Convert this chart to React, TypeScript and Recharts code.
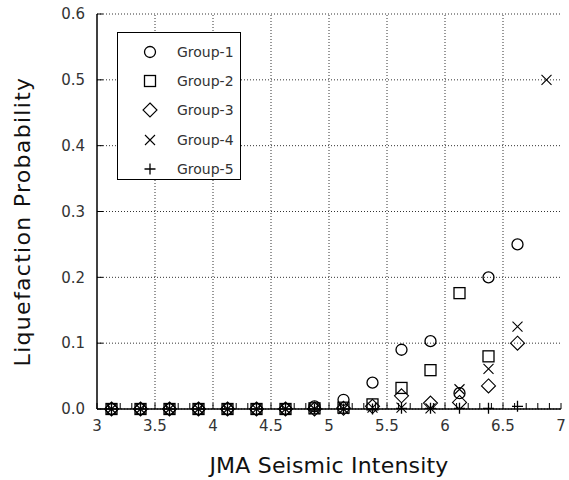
import { ScatterChart, Scatter, XAxis, YAxis, CartesianGrid, ReferenceLine, Legend } from 'recharts';

// JMA intensity bins (x positions of the points)
const intensity = [3.125, 3.375, 3.625, 3.875, 4.125, 4.375, 4.625, 4.875, 5.125, 5.375, 5.625, 5.875, 6.125, 6.375, 6.625, 6.875];

// liquefaction probability per group (null = no point)
const group1 = [0, 0, 0, 0, 0, 0, 0, 0.004, 0.014, 0.04, 0.09, 0.103, 0.024, 0.2, 0.25, null];
const group2 = [0, 0, 0, 0, 0, 0, 0, 0.001, 0.002, 0.007, 0.032, 0.059, 0.176, 0.08, null, null];
const group3 = [0, 0, 0, 0, 0, 0, 0, 0, 0.001, 0.004, 0.02, 0.009, 0.01, 0.035, 0.1, null];
const group4 = [0, 0, 0, 0, 0, 0, 0, 0, 0, 0.002, 0.002, 0.001, 0.03, 0.061, 0.125, 0.5];
const group5 = [0, 0, 0, 0, 0, 0, 0, 0, 0, 0, 0.001, 0.001, 0.001, 0.001, 0.004, null];

const groupNames = ['Group-1', 'Group-2', 'Group-3', 'Group-4', 'Group-5'];

const xMajorTicks = [3, 3.5, 4, 4.5, 5, 5.5, 6, 6.5, 7];
const xMinorTicks = [
  3, 3.1, 3.2, 3.3, 3.4, 3.5, 3.6, 3.7, 3.8, 3.9,
  4, 4.1, 4.2, 4.3, 4.4, 4.5, 4.6, 4.7, 4.8, 4.9,
  5, 5.1, 5.2, 5.3, 5.4, 5.5, 5.6, 5.7, 5.8, 5.9,
  6, 6.1, 6.2, 6.3, 6.4, 6.5, 6.6, 6.7, 6.8, 6.9, 7,
];
const yTicks = [0, 0.1, 0.2, 0.3, 0.4, 0.5, 0.6];

const FONT = '"DejaVu Sans", sans-serif';
const INK = '#000';

const toPoints = (vals: (number | null)[]) =>
  intensity
    .map((x, i) => ({ x, y: vals[i] }))
    .filter((p) => p.y !== null);

const groups = [group1, group2, group3, group4, group5].map(toPoints);

// marker shapes
const CircleMark = ({ cx, cy }: any) => (
  <circle cx={cx} cy={cy} r={5.5} fill="none" stroke={INK} strokeWidth={1.3} />
);
const SquareMark = ({ cx, cy }: any) => (
  <rect x={cx - 5.5} y={cy - 5.5} width={11} height={11} fill="none" stroke={INK} strokeWidth={1.3} />
);
const DiamondMark = ({ cx, cy }: any) => (
  <path d={`M${cx},${cy - 7}L${cx + 7},${cy}L${cx},${cy + 7}L${cx - 7},${cy}Z`} fill="none" stroke={INK} strokeWidth={1.1} />
);
const CrossMark = ({ cx, cy }: any) => (
  <path d={`M${cx - 5},${cy - 5}L${cx + 5},${cy + 5}M${cx - 5},${cy + 5}L${cx + 5},${cy - 5}`} stroke={INK} strokeWidth={1.1} />
);
const PlusMark = ({ cx, cy }: any) => (
  <path d={`M${cx - 5.5},${cy}L${cx + 5.5},${cy}M${cx},${cy - 5.5}L${cx},${cy + 5.5}`} stroke={INK} strokeWidth={1.3} />
);

const marks = [CircleMark, SquareMark, DiamondMark, CrossMark, PlusMark];

function BottomTick(props: any) {
  const { x, y, payload } = props;
  if (!xMajorTicks.includes(payload.value)) return <g />;
  return (
    <text x={x} y={y} dy="0.71em" textAnchor="middle" fill="#333" fontSize={15} fontFamily={FONT}>
      {String(payload.value)}
    </text>
  );
}

function LegendBox() {
  return (
    <div
      style={{
        width: 124,
        height: 148,
        border: '1.5px solid #000',
        background: '#fff',
        boxSizing: 'border-box',
        paddingTop: 4,
      }}
    >
      {groupNames.map((name, i) => {
        const Mark = marks[i];
        return (
          <div key={name} style={{ display: 'flex', alignItems: 'center', height: 29.3 }}>
            <svg width={16} height={16} style={{ marginLeft: 24 }}>
              <Mark cx={8} cy={8} />
            </svg>
            <span style={{ marginLeft: 19, fontSize: 14, color: '#333', fontFamily: FONT }}>{name}</span>
          </div>
        );
      })}
    </div>
  );
}

export default function App() {
  return (
    <div style={{ position: 'absolute', left: 0, top: 0, width: 569, height: 480, background: '#fff', fontFamily: FONT }}>
      <ScatterChart width={569} height={480} margin={{ top: 14, right: 8, left: 0, bottom: 0 }}>
        <CartesianGrid xAxisId="b" yAxisId="l" vertical={false} stroke="#333" strokeDasharray="1 2" />
        {xMajorTicks.slice(1, -1).map((v) => (
          <ReferenceLine key={v} x={v} xAxisId="b" yAxisId="l" stroke="#333" strokeDasharray="1 2" />
        ))}
        <XAxis
          xAxisId="b"
          dataKey="x"
          type="number"
          domain={[3, 7]}
          ticks={xMinorTicks}
          interval={0}
          height={71}
          axisLine={{ stroke: INK, strokeWidth: 1.5 }}
          tickLine={{ stroke: INK }}
          tickSize={-6}
          tickMargin={17}
          tick={<BottomTick />}
          label={{
            content: (p: any) => {
              const vb = p.viewBox;
              return (
                <text x={vb.x + vb.width / 2} y={vb.y + 64} textAnchor="middle" fill="#111" fontSize={22} fontFamily={FONT} letterSpacing={0.2}>
                  JMA Seismic Intensity
                </text>
              );
            },
          }}
        />
        <XAxis
          xAxisId="t"
          orientation="top"
          type="number"
          domain={[3, 7]}
          ticks={xMinorTicks}
          interval={0}
          height={0}
          axisLine={{ stroke: INK, strokeWidth: 1.5 }}
          tickLine={{ stroke: INK }}
          tickSize={-6}
          tickFormatter={() => ''}
        />
        <YAxis
          yAxisId="l"
          dataKey="y"
          type="number"
          domain={[0, 0.6]}
          ticks={yTicks}
          interval={0}
          width={97}
          axisLine={{ stroke: INK, strokeWidth: 1.5 }}
          tickLine={{ stroke: INK }}
          tickSize={-6}
          tickMargin={18}
          tick={{ fill: '#333', fontSize: 15, fontFamily: FONT }}
          tickFormatter={(v: number) => v.toFixed(1)}
          label={{
            content: (p: any) => {
              const vb = p.viewBox;
              const cy = vb.y + vb.height / 2 + 10;
              return (
                <text x={30} y={cy} transform={`rotate(-90 30 ${cy})`} textAnchor="middle" fill="#111" fontSize={22} fontFamily={FONT} letterSpacing={1.3}>
                  Liquefaction Probability
                </text>
              );
            },
          }}
        />
        <YAxis
          yAxisId="r"
          orientation="right"
          type="number"
          domain={[0, 0.6]}
          ticks={yTicks}
          interval={0}
          width={0}
          axisLine={{ stroke: INK, strokeWidth: 1.5 }}
          tickLine={{ stroke: INK }}
          tickSize={-6}
          tickFormatter={() => ''}
        />
        <Legend
          layout="vertical"
          align="center"
          verticalAlign="middle"
          wrapperStyle={{ left: 117, top: 32, width: 124 }}
          content={() => <LegendBox />}
        />
        {groups.map((pts, i) => (
          <Scatter
            key={groupNames[i]}
            name={groupNames[i]}
            data={pts}
            xAxisId="b"
            yAxisId="l"
            shape={marks[i]}
            isAnimationActive={false}
          />
        ))}
      </ScatterChart>
    </div>
  );
}
